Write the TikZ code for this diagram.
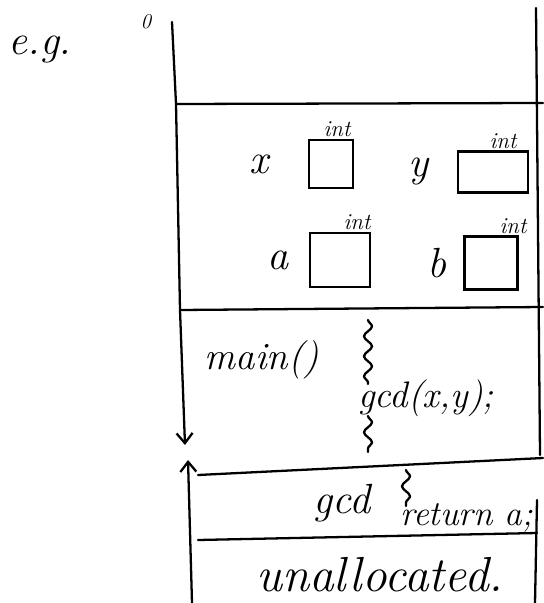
\documentclass[tikz,border=0pt]{standalone}
\usepackage{fontspec}
\usepackage{tikz}
\usetikzlibrary{arrows.meta,positioning,decorations.pathmorphing}
\tikzset{
    borda/.style={line width=1.3pt, line cap=round, line join=round},
    rabisco/.style={
        borda,
        decorate,
        decoration={snake, amplitude=0.8mm, segment length=4mm}
    },
    ponta/.tip={Straight Barb[length=2mm, width=3.2mm]},
    caixa/.style={draw, line width=1.3pt, inner sep=0pt},
    nome/.style={font=\fontsize{24}{28}\selectfont\itshape, inner sep=0pt},
    tipo/.style={font=\fontsize{13}{15}\selectfont\itshape, inner sep=1pt},
    texto/.style={font=\fontsize{22}{26}\selectfont\itshape, inner sep=0pt}
}

\begin{document}
\begin{tikzpicture}[x=0.2mm, y=-0.2mm]
    \useasboundingbox (0,0) rectangle (543,603);

    \node[texto, font=\fontsize{24}{28}\selectfont\itshape] (eg) at (40,50) {e.g.};
    \node[tipo, font=\fontsize{12}{14}\selectfont\itshape] (zero) at (146,22) {0};

    % outer lines of the stack
    \draw[borda, -{ponta}] (172,22) -- (176,104) -- (180,310) -- (185,445);
    \draw[borda, {ponta}-] (188,460) -- (192,603);
    \draw[borda] (536,8) -- (540,455);
    \draw[borda] (537,500) -- (535,603);

    % frames
    \draw[borda] (176,104) -- (543,103);
    \draw[borda] (180,310) -- (543,307);
    \draw[borda] (198,475) -- (543,458);
    \draw[borda] (198,540) -- (537,533);

    % variables
    \node[caixa, minimum width=8.8mm, minimum height=9.6mm,
          label={[tipo, xshift=1.2mm]above:int}] (boxx) at (331,164) {};
    \node[caixa, minimum width=14mm, minimum height=8.2mm,
          label={[tipo, xshift=2mm]above:int}] (boxy) at (493,172) {};
    \node[caixa, minimum width=12mm, minimum height=10.8mm,
          label={[tipo, xshift=3.4mm]above:int}] (boxa) at (340,260) {};
    \node[caixa, minimum width=10.6mm, minimum height=10.6mm,
          label={[tipo, xshift=4.4mm]above:int}] (boxb) at (491,263) {};
    \node[nome, left=7.8mm of boxx] (varx) {x};
    \node[nome, left=5.6mm of boxy] (vary) {y};
    \node[nome, left=4mm of boxa] (vara) {a};
    \node[nome, left=3.4mm of boxb] (varb) {b};

    % main
    \node[texto] (main) at (262,360) {main()};
    \draw[rabisco] (368,320) -- (368,384);
    \draw[rabisco] (368,416) -- (368,452);
    \node[texto, font=\fontsize{21}{24}\selectfont\itshape, anchor=west] (call) at (358,398) {gcd(x,y);};

    % gcd
    \node[texto, font=\fontsize{24}{28}\selectfont\itshape] (gcd) at (342,503) {gcd};
    \draw[rabisco] (406,470) -- (406,506);
    \node[texto, font=\fontsize{20}{24}\selectfont\itshape, anchor=west] (ret) at (400,518) {return a;};

    \node[texto, font=\fontsize{28}{32}\selectfont\itshape] (livre) at (380,575) {unallocated.};
\end{tikzpicture}
\end{document}
